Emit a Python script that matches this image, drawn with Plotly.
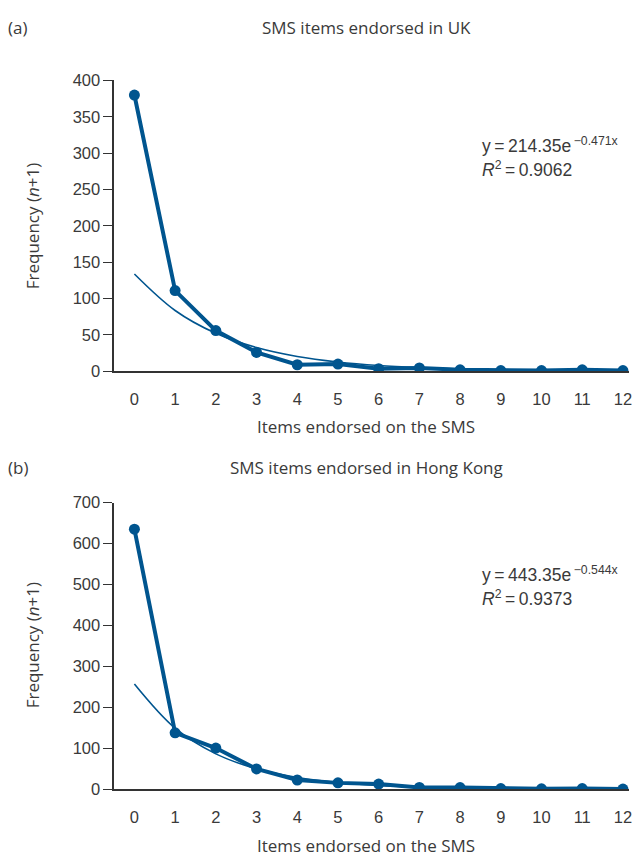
import plotly.graph_objects as go

items = list(range(13))
uk_freq = [380, 111, 56, 26, 9, 10, 3.5, 4.7, 2, 1, 1, 2, 1]
uk_trend = [133.8, 83.6, 52.2, 32.6, 20.3, 12.7, 7.9, 5.0, 3.1, 1.9, 1.2, 0.8, 0.5]
hk_freq = [635, 138, 101, 50, 23, 16, 13, 5, 4.5, 2, 1.5, 2, 1]
hk_trend = [257.3, 149.4, 86.7, 50.3, 29.2, 16.9, 9.8, 5.7, 3.3, 1.9, 1.1, 0.7, 0.4]

BLUE = "#00558f"
TXT = "#3a3a3a"
FONT = "Open Sans"
TICKFONT = "Liberation Sans"
W, H = 639, 866

fig = go.Figure()
for freq, trend, xa, ya in [(uk_freq, uk_trend, "x", "y"), (hk_freq, hk_trend, "x2", "y2")]:
    fig.add_trace(go.Scatter(x=items, y=trend, mode="lines", line=dict(color=BLUE, width=1.6, shape="spline"),
                             xaxis=xa, yaxis=ya, showlegend=False, hoverinfo="skip"))
    fig.add_trace(go.Scatter(x=items, y=freq, mode="lines+markers", line=dict(color=BLUE, width=4),
                             marker=dict(color=BLUE, size=11), xaxis=xa, yaxis=ya, showlegend=False))

xd = [115 / W, 632 / W]
def ydom(top, bot):
    return [1 - bot / H, 1 - top / H]

xcommon = dict(domain=xd, range=[-0.49, 12.15], tickvals=items, ticks="", showline=True,
               linecolor="#333", linewidth=2, showgrid=False, zeroline=False, ticklabelstandoff=12,
               tickfont=dict(family=TICKFONT, size=16.5, color=TXT))
ycommon = dict(ticks="outside", ticklen=9, tickcolor="#333", tickwidth=1.2, showline=True,
               linecolor="#333", linewidth=2, showgrid=False, zeroline=False,
               tickfont=dict(family=TICKFONT, size=16.5, color=TXT))

fig.update_layout(
    width=W, height=H, paper_bgcolor="white", plot_bgcolor="white",
    margin=dict(l=0, r=0, t=0, b=0),
    xaxis=dict(**xcommon, anchor="y"),
    yaxis=dict(**ycommon, domain=ydom(73, 370), range=[0, 400], dtick=50, anchor="x"),
    xaxis2=dict(**xcommon, anchor="y2"),
    yaxis2=dict(**ycommon, domain=ydom(504, 797), range=[0, 700], dtick=100, anchor="x2"),
)

def ann(text, x, y, size=17, xanchor="left", family=FONT, angle=0):
    fig.add_annotation(text=text, x=x / W, y=1 - y / H, xref="paper", yref="paper", showarrow=False,
                       xanchor=xanchor, yanchor="middle", align="left", textangle=angle,
                       font=dict(family=family, size=size, color=TXT))

ann("(a)", 6, 19)
ann("SMS items endorsed in UK", 368, 19, xanchor="center")
ann("(b)", 6, 468)
ann("SMS items endorsed in Hong Kong", 368, 468, xanchor="center")

ann("Items endorsed on the SMS", 368, 426, xanchor="center")
ann("Items endorsed on the SMS", 368, 854, xanchor="center")
ann("Frequency (<i>n</i>+1)", 33, 222, xanchor="center", angle=-90)
ann("Frequency (<i>n</i>+1)", 33, 650, xanchor="center", angle=-90)

ann("y\u2009=\u2009214.35e<sup>\u2009\u22120.471x</sup>", 482, 139, size=17.5, family=TICKFONT)
ann("<i>R</i><sup>2</sup>\u2009=\u20090.9062", 482, 163, size=17.5, family=TICKFONT)
ann("y\u2009=\u2009443.35e<sup>\u2009\u22120.544x</sup>", 482, 577, size=17.5, family=TICKFONT)
ann("<i>R</i><sup>2</sup>\u2009=\u20090.9373", 482, 601, size=17.5, family=TICKFONT)

fig.write_html("out.html", config={"displayModeBar": False},
               post_script="document.body.style.margin='0px';")
